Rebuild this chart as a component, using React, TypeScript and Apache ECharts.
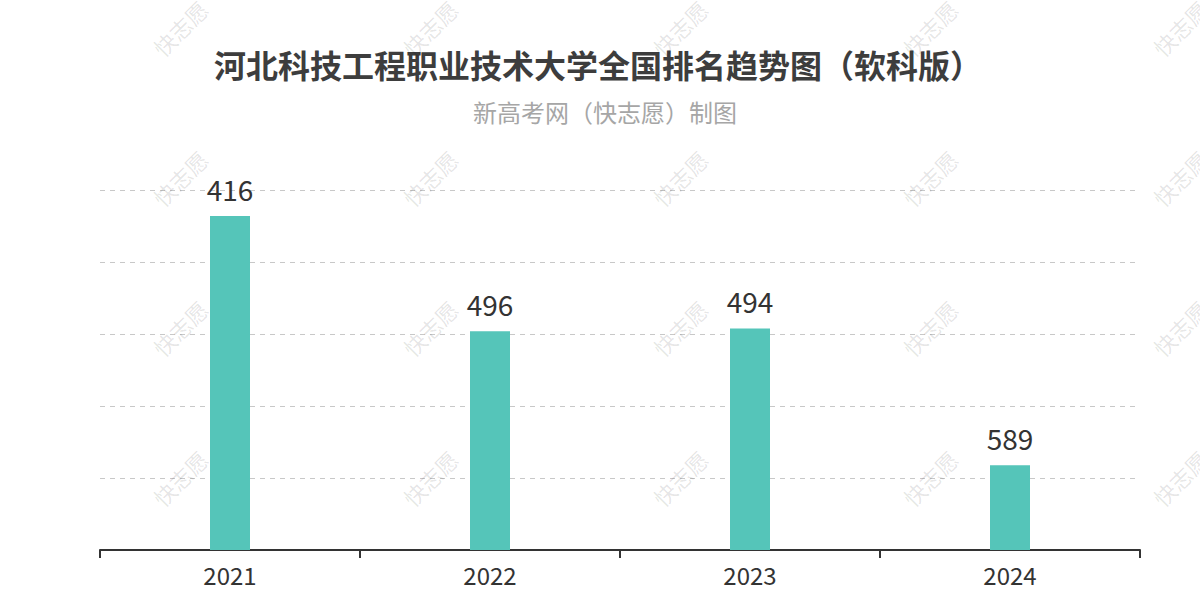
import React, { useEffect, useRef } from "react";
import * as echarts from "echarts";

const titleText = "河北科技工程职业技术大学全国排名趋势图（软科版）";
const subtitleText = "新高考网（快志愿）制图";
const years = ["2021", "2022", "2023", "2024"];
const ranks = [416, 496, 494, 589];
const watermarkText = "快志愿";
const watermarkXs = [180, 430, 680, 930, 1180];
const watermarkYs = [28, 178, 328, 478];

export default function App() {
  const ref = useRef<HTMLDivElement>(null);
  useEffect(() => {
    if (!ref.current) return;
    const chart = echarts.init(ref.current, null, { renderer: "svg" });
    const top = Math.max(...ranks) * 1.1;
    const plotted = ranks.map((r) => top - r);
    const font = '"Noto Sans CJK SC", "Noto Sans", sans-serif';
    const marks: any[] = [];
    watermarkXs.forEach((x) =>
      watermarkYs.forEach((y) =>
        marks.push({
          type: "text",
          x,
          y,
          rotation: Math.PI / 4,
          z: 100,
          style: {
            text: watermarkText,
            fill: "rgba(0,0,0,0.11)",
            font: `22px ${font}`,
            align: "center",
            verticalAlign: "middle",
          },
        })
      )
    );
    chart.setOption({
      animation: false,
      backgroundColor: "#fff",
      textStyle: { fontFamily: font },
      title: [
        {
          text: titleText,
          left: 593,
          textAlign: "center",
          top: 43,
          textStyle: { fontSize: 32, fontWeight: "bold", color: "#3d3d3d", fontFamily: font },
        },
        {
          text: subtitleText,
          left: 600,
          textAlign: "center",
          top: 94,
          textStyle: { fontSize: 24, fontWeight: "normal", color: "#a6a6a6", fontFamily: font },
        },
      ],
      grid: { left: 100, right: 60, top: 190, bottom: 50 },
      xAxis: {
        type: "category",
        data: years,
        axisLine: { lineStyle: { color: "#333", width: 2 } },
        axisTick: { show: true, length: 8, lineStyle: { color: "#333", width: 2 } },
        axisLabel: { fontSize: 24, color: "#333", margin: 12, fontFamily: font },
      },
      yAxis: {
        type: "value",
        min: 0,
        max: 250,
        interval: 50,
        axisLabel: { show: false },
        axisLine: { show: false },
        axisTick: { show: false },
        splitLine: { lineStyle: { type: [5, 5], color: "#c8c8c8", width: 1 } },
      },
      series: [
        {
          type: "bar",
          data: plotted,
          barWidth: 40,
          itemStyle: { color: "#55c5b9" },
          label: {
            show: true,
            position: "top",
            distance: 13,
            fontSize: 28,
            color: "#333",
            fontFamily: font,
            formatter: (p: any) => String(ranks[p.dataIndex]),
          },
        },
      ],
      graphic: marks,
    });
    return () => chart.dispose();
  }, []);
  return (
    <div
      ref={ref}
      style={{ position: "absolute", left: 0, top: 0, width: 1200, height: 600 }}
    />
  );
}
